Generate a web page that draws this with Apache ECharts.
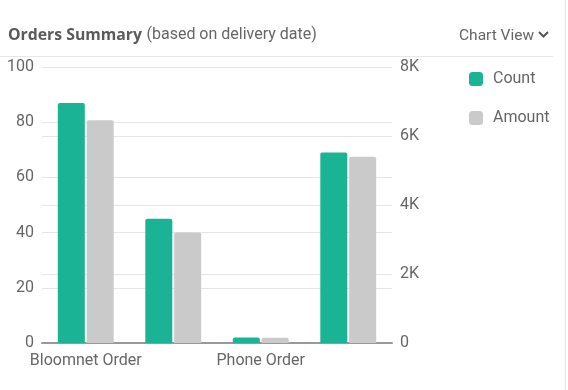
<!DOCTYPE html>
<html>
<head>
<meta charset="utf-8">
<script src="https://cdn.jsdelivr.net/npm/echarts@6/dist/echarts.min.js"></script>
<style>
html,body{margin:0;padding:0;background:#fff;}
#chart{width:568px;height:390px;}
</style>
</head>
<body>
<div id="chart"></div>
<script>
const categories = ['Bloomnet Order', 'Web Order', 'Phone Order', 'Walk-in Order'];
const countValues = [87, 45, 2, 69];
const amountValues = [6460, 3200, 150, 5400];
const leftTicks = { min: 0, max: 100, interval: 20 };
const rightTicks = { min: 0, max: 8000, interval: 2000 };

const chart = echarts.init(document.getElementById('chart'));
const txt = '#666';
const font = 'Roboto';
chart.setOption({
  animation: false,
  textStyle: { fontFamily: font },
  title: {
    left: 3, top: 21,
    text: '{b|Orders Summary} {n|(based on delivery date)}',
    textStyle: {
      fontWeight: 'normal',
      rich: {
        b: { fontFamily: 'Open Sans', fontSize: 15.8, fontWeight: 'bold', color: '#5a5a5a' },
        n: { fontFamily: font, fontSize: 16, fontWeight: 'normal', color: txt }
      }
    }
  },
  graphic: [
    { type: 'text', left: 459, top: 28, style: { text: 'Chart View', fontFamily: font, fontSize: 15.5, fill: txt } },
    { type: 'polyline', shape: { points: [[539, 32], [543.5, 36.5], [548, 32]] }, style: { stroke: '#555', lineWidth: 2, fill: null } },
    { type: 'line', shape: { x1: 0, y1: 56.5, x2: 553, y2: 56.5 }, style: { stroke: '#e6e6e6', lineWidth: 1 } },
    { type: 'line', shape: { x1: 565.5, y1: 0, x2: 565.5, y2: 390 }, style: { stroke: '#e6e6e6', lineWidth: 1 } }
  ],
  legend: {
    orient: 'vertical', left: 464, top: 66,
    itemWidth: 14, itemHeight: 14, itemGap: 23,
    icon: 'roundRect',
    textStyle: { fontFamily: font, fontSize: 16, color: txt, padding: [0, 0, 0, 5] },
    data: ['Count', 'Amount']
  },
  grid: { left: 42, right: 176, top: 67, bottom: 47, containLabel: false },
  xAxis: {
    type: 'category', data: categories,
    axisLine: { lineStyle: { color: '#999', width: 2 } },
    axisTick: { show: false },
    axisLabel: { interval: 1, fontFamily: font, fontSize: 16, color: txt, margin: 10 }
  },
  yAxis: [
    {
      type: 'value', min: leftTicks.min, max: leftTicks.max, interval: leftTicks.interval,
      axisLine: { show: false }, axisTick: { show: false },
      axisLabel: { fontFamily: font, fontSize: 16, color: txt, margin: 8 },
      splitLine: { lineStyle: { color: '#e5e5e5', width: 1 } }
    },
    {
      type: 'value', min: rightTicks.min, max: rightTicks.max, interval: rightTicks.interval,
      axisLine: { show: false }, axisTick: { show: false },
      axisLabel: { fontFamily: font, fontSize: 16, color: txt, margin: 8,
        formatter: v => v === 0 ? '0' : (v / 1000) + 'K' },
      splitLine: { lineStyle: { color: '#e5e5e5', width: 1 } }
    }
  ],
  series: [
    { name: 'Count', type: 'bar', yAxisIndex: 0, data: countValues, barWidth: 27, barGap: '7%',
      itemStyle: { color: '#1ab394', borderRadius: [2, 2, 0, 0] } },
    { name: 'Amount', type: 'bar', yAxisIndex: 1, data: amountValues, barWidth: 27,
      itemStyle: { color: '#cacaca', borderRadius: [2, 2, 0, 0] } }
  ]
});
</script>
</body>
</html>
